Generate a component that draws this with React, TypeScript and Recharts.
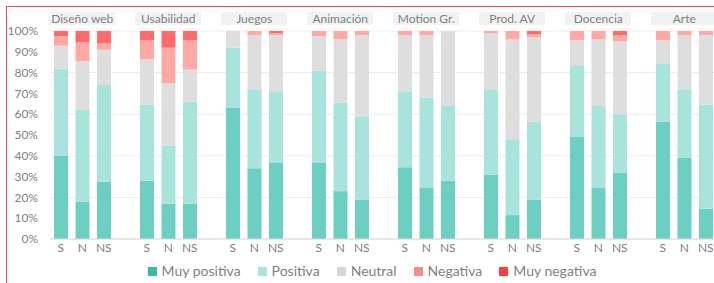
import { BarChart, Bar, XAxis, YAxis, CartesianGrid } from "recharts";

const groups = [
  "Diseño web",
  "Usabilidad",
  "Juegos",
  "Animación",
  "Motion Gr.",
  "Prod. AV",
  "Docencia",
  "Arte",
];
const subgroups = ["S", "N", "NS"];

// percentages, 3 per group (S, N, NS)
const muyPositiva = [40, 18, 27.5, 28, 17, 17, 63, 34, 36.5, 36.5, 23, 19, 34.5, 24.5, 28, 31, 11.5, 19, 49, 24.5, 32, 56.5, 39, 14.5];
const positiva = [42, 44, 46.5, 36.5, 28, 49, 29, 38, 34.5, 44.5, 42.5, 40, 36.5, 43.5, 36, 41, 36.5, 37.5, 34.5, 39.5, 28, 28, 33, 50];
const neutral = [11, 23.5, 17, 22, 30, 15.5, 8, 26, 27, 16.5, 30.5, 39, 27, 30, 36, 27, 48, 40.5, 12, 32, 35, 11, 26, 33.5];
const negativa = [4.5, 9, 3, 9, 17, 14, 0, 2, 1, 2.5, 4, 2, 2, 2, 0, 1, 4, 1.5, 4.5, 4, 3, 4.5, 2, 2];
const muyNegativa = [2.5, 5.5, 6, 4.5, 8, 4.5, 0, 0, 1, 0, 0, 0, 0, 0, 0, 0, 0, 1.5, 0, 0, 2, 0, 0, 0];

const yTicks = [0, 10, 20, 30, 40, 50, 60, 70, 80, 90, 100];

const series = [
  { key: "mp", name: "Muy positiva", fill: "#6dcfc1", swatch: "#38bca8" },
  { key: "p", name: "Positiva", fill: "#a8e4dc", swatch: "#a8e4dc" },
  { key: "neu", name: "Neutral", fill: "#dedede", swatch: "#d6d6d6" },
  { key: "neg", name: "Negativa", fill: "#ffa8a4", swatch: "#ff8a84" },
  { key: "mn", name: "Muy negativa", fill: "#ff6b6b", swatch: "#ff4040" },
];

type Row = { id: string; group: string; sub: string; [k: string]: any };

const data: Row[] = [];
groups.forEach((g, gi) => {
  subgroups.forEach((s, si) => {
    const i = gi * 3 + si;
    data.push({
      id: `${gi}-${s}`,
      group: g,
      sub: s,
      mp: muyPositiva[i],
      p: positiva[i],
      neu: neutral[i],
      neg: negativa[i],
      mn: muyNegativa[i],
    });
  });
  data.push({ id: `${gi}-gap`, group: g, sub: "" });
});

const byId: Record<string, Row> = {};
data.forEach((r) => (byId[r.id] = r));

const FONT = "Lato, 'Open Sans', sans-serif";

function GroupTick(props: any) {
  const { x, y, payload } = props;
  const row = byId[payload.value];
  if (!row || row.sub !== "N") return <g />;
  return (
    <g>
      <rect x={x - 33} y={y - 19} width={66} height={13} fill="#f2f2f2" />
      <text
        x={x}
        y={y - 8.5}
        textAnchor="middle"
        fontSize={12}
        fontFamily={FONT}
        fill="#7f7f7f"
      >
        {row.group}
      </text>
    </g>
  );
}

export default function App() {
  return (
    <div
      style={{
        position: "absolute",
        left: 0,
        top: 0,
        width: 714,
        height: 283,
        overflow: "hidden",
        background: "#fff",
        fontFamily: FONT,
      }}
    >
      <BarChart
        width={740}
        height={283}
        data={data}
        margin={{ top: 0, right: 2, left: 6, bottom: 0 }}
        barSize={14}
      >
        <CartesianGrid stroke="#ececec" vertical={false} />
        <XAxis
          dataKey="id"
          interval={0}
          height={44}
          tickLine={false}
          tickSize={0}
          tickMargin={4}
          axisLine={{ stroke: "#d9d9d9" }}
          tick={{ fontSize: 12, fill: "#7f7f7f", fontFamily: FONT }}
          tickFormatter={(v: string) => byId[v]?.sub ?? ""}
        />
        <XAxis
          xAxisId="top"
          dataKey="id"
          orientation="top"
          interval={0}
          height={31}
          tickLine={false}
          tickSize={0}
          tickMargin={0}
          axisLine={false}
          tick={<GroupTick />}
        />
        <YAxis
          width={44}
          domain={[0, 100]}
          ticks={yTicks}
          tickLine={false}
          axisLine={false}
          tickSize={0}
          tickMargin={12}
          tick={{ fontSize: 12, fill: "#7f7f7f", fontFamily: FONT }}
          tickFormatter={(v: number) => `${v}%`}
        />
        {series.map((s) => (
          <Bar
            key={s.key}
            dataKey={s.key}
            name={s.name}
            stackId="a"
            fill={s.fill}
            isAnimationActive={false}
          />
        ))}
      </BarChart>

      <div
        style={{
          position: "absolute",
          left: 6,
          top: 6,
          width: 800,
          height: 300,
          borderLeft: "1px solid #f04a4a",
          borderTop: "1px solid #f04a4a",
          pointerEvents: "none",
        }}
      />

      <div
        style={{
          position: "absolute",
          left: 0,
          top: 261,
          width: 744,
          display: "flex",
          justifyContent: "center",
          gap: 17,
          fontSize: 14,
          color: "#7f7f7f",
          lineHeight: "20px",
        }}
      >
        {series.map((s) => (
          <div key={s.key} style={{ display: "flex", alignItems: "center" }}>
            <span
              style={{
                display: "inline-block",
                width: 9,
                height: 9,
                background: s.swatch,
                marginRight: 5,
              }}
            />
            <span>{s.name}</span>
          </div>
        ))}
      </div>
    </div>
  );
}
